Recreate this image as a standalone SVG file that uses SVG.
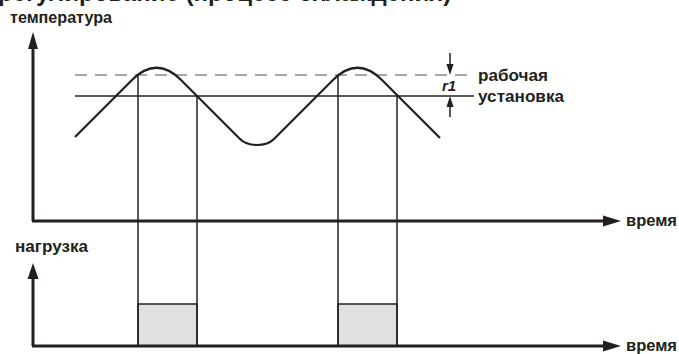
<svg xmlns="http://www.w3.org/2000/svg" width="679" height="354" viewBox="0 0 679 354">
<style>
.ax{stroke:#231f20;stroke-width:3;fill:none}
.ah{fill:#231f20}
.thin{stroke:#231f20;stroke-width:1.5;fill:none}
.curve{stroke:#231f20;stroke-width:2.2;fill:none;stroke-linejoin:round}
.dash{stroke:#8a8a8a;stroke-width:1.5;stroke-dasharray:12 8;fill:none}
.lbl{font-family:"Liberation Sans",Arial,sans-serif;font-weight:bold;fill:#231f20}
.box{fill:#e0e0e0;stroke:#231f20;stroke-width:1.5}
</style>
<rect width="679" height="354" fill="#fff"/>
<text class="lbl" x="-2" y="1" font-size="24">регулирование (процесс охлаждения)</text>
<g id="load-boxes">
<rect class="box" x="138" y="304" width="59" height="42"/>
<rect class="box" x="338" y="304" width="59" height="42"/>
</g>
<g id="setpoints">
<line class="dash" x1="75" y1="75" x2="474" y2="75"/>
<line class="thin" x1="75" y1="96" x2="474" y2="96"/>
</g>
<g id="verticals">
<line class="thin" x1="138" y1="75" x2="138" y2="346"/>
<line class="thin" x1="197" y1="96" x2="197" y2="346"/>
<line class="thin" x1="338" y1="75" x2="338" y2="346"/>
<line class="thin" x1="397" y1="96" x2="397" y2="346"/>
</g>
<g id="temperature-curve">
<path class="curve" d="M75,137 L132,80 Q156.5,55.5 181,80 L240,139 C248,147 266,147 274,139 L333,80 Q357.5,55.5 382,80 L440,138"/>
</g>
<g id="axes">
<line class="ax" x1="33" y1="221" x2="33" y2="46"/>
<polygon class="ah" points="33,32 28,49 38,49"/>
<line class="ax" x1="32" y1="221" x2="608" y2="221"/>
<polygon class="ah" points="621,221 603,215.5 603,226.5"/>
<line class="ax" x1="33" y1="346" x2="33" y2="276"/>
<polygon class="ah" points="33,263 27.5,279 38.5,279"/>
<line class="ax" x1="32" y1="346" x2="608" y2="346"/>
<polygon class="ah" points="621,346 603,340.5 603,351.5"/>
</g>
<g id="r1-marker">
<line class="thin" x1="450" y1="53" x2="450" y2="66"/>
<polygon class="ah" points="450,75 446.5,64 453.5,64"/>
<line class="thin" x1="450" y1="117" x2="450" y2="105"/>
<polygon class="ah" points="450,96 446.5,107 453.5,107"/>
<text class="lbl" x="442" y="91" font-size="15" font-style="italic" font-weight="normal">r1</text>
</g>
<g id="labels">
<text class="lbl" x="10" y="23" font-size="16" textLength="102" lengthAdjust="spacingAndGlyphs">температура</text>
<text class="lbl" x="15" y="252" font-size="16" textLength="73" lengthAdjust="spacingAndGlyphs">нагрузка</text>
<text class="lbl" x="478" y="81" font-size="17" textLength="70" lengthAdjust="spacingAndGlyphs">рабочая</text>
<text class="lbl" x="478" y="102" font-size="17" textLength="86" lengthAdjust="spacingAndGlyphs">установка</text>
<text class="lbl" x="626" y="226" font-size="17" textLength="51" lengthAdjust="spacingAndGlyphs">время</text>
<text class="lbl" x="626" y="351" font-size="17" textLength="51" lengthAdjust="spacingAndGlyphs">время</text>
</g>
</svg>
